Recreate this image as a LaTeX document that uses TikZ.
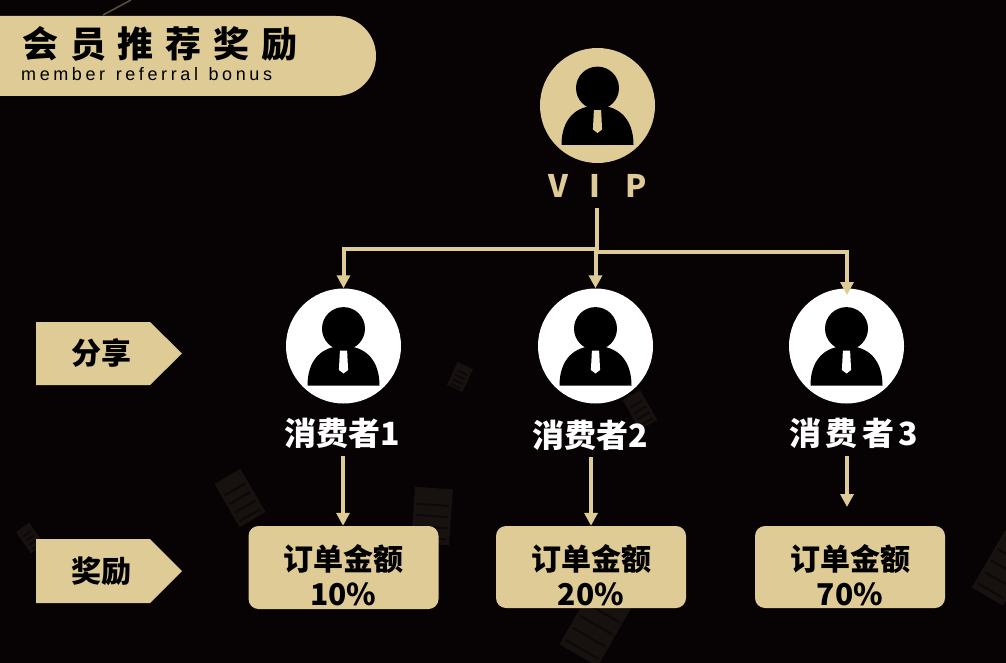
\documentclass[tikz,border=0pt]{standalone}
\usepackage{fontspec}
\setmainfont{Liberation Sans}
\newfontfamily\cjk{Noto Sans CJK SC}
\newfontfamily\cjkwide[LetterSpace=33]{Noto Sans CJK SC}
\newfontfamily\latinwide[LetterSpace=20]{Liberation Sans}
\usetikzlibrary{arrows.meta, positioning}
\definecolor{bgdark}{HTML}{070204}
\definecolor{gold}{HTML}{DFCB95}
\definecolor{scrap}{HTML}{171210}
\definecolor{scrapline}{HTML}{0D0908}
\tikzset{
  member/.style={circle,minimum size=115pt,inner sep=0pt},
  bonusbox/.style={fill=gold,rounded corners=10pt,minimum width=190pt,minimum height=82pt,inner sep=0pt},
  boxtext/.style={font=\cjk\bfseries\fontsize{30}{35}\selectfont,align=center,inner sep=0pt},
  tagtext/.style={font=\cjk\bfseries\fontsize{30}{35}\selectfont,inner sep=0pt},
  whotext/.style={font=\cjk\bfseries\fontsize{32}{36}\selectfont,text=white,inner sep=0pt},
  flow/.style={draw=gold,line width=4pt,-{Triangle[length=13pt,width=13pt]}},
  stem/.style={draw=gold,line width=4pt},
  person/.pic={
    \fill[black] (0,-17.4) circle (21.5);
    \fill[black] (-36,39.5) .. controls (-36,14) and (-22,0) .. (0,0) .. controls (22,0) and (36,14) .. (36,39.5) -- cycle;
    \fill[pic actions] (-3.6,4.6) -- (3.6,4.6) -- (4.6,24) -- (0,27.5) -- (-4.6,24) -- cycle;
  }
}
\begin{document}
\begin{tikzpicture}[x=1pt,y=-1pt]
  \useasboundingbox (0,0) rectangle (1006,663);
  \fill[bgdark] (0,0) rectangle (1006,663);

  % scraps in the background
  \foreach \px/\py/\ang/\wd/\ht in {240/498/30/30/50, 432/516/-4/38/56, 460/377/-25/17/25, 30/538/35/16/26, 640/410/30/20/34, 596/625/-30/44/70, 1004/568/-30/36/66}{
    \begin{scope}[shift={(\px,\py)},rotate=\ang]
      \fill[scrap] (-\wd/2,-\ht/2) rectangle (\wd/2,\ht/2);
      \foreach \k in {-1,...,2}
        \fill[scrapline] (-\wd/2+3,\k*\ht/5-1) rectangle (\wd/2-3,\k*\ht/5+1);
    \end{scope}
  }
  \draw[draw=black!60!gold,line width=1.5pt] (103,15) -- (131,0);

  % title
  \fill[gold,rounded corners=40pt] (-50,16) -- (376,16) -- (376,96) -- (-50,96) -- cycle;
  \node[font=\cjkwide\bfseries\fontsize{36}{40}\selectfont,anchor=west,inner sep=0pt] (title) at (22,44) {会员推荐奖励};
  \node[font=\latinwide\fontsize{18}{20}\selectfont,anchor=west,inner sep=0pt] (subtitle) at (21,74.5) {member\hspace{2pt} referral\hspace{2pt} bonus};

  % people
  \node[member,fill=gold] (vip) at (597.5,105.5) {};
  \node[member,fill=white] (cons1) at (343.5,346) {};
  \node[member,fill=white] (cons2) at (595.5,346) {};
  \node[member,fill=white] (cons3) at (846.5,346) {};
  \pic[fill=gold] at (vip) {person};
  \pic[fill=white] at (cons1) {person};
  \pic[fill=white] at (cons2) {person};
  \pic[fill=white] at (cons3) {person};

  \node[font=\cjk\bfseries\fontsize{31}{36}\selectfont,text=gold,inner sep=0pt] (viptext) at (598,186) {V\hspace{21pt}I\hspace{25pt}P};
  \node[whotext] (who1) at (342,433) {消费者1};
  \node[whotext] (who2) at (590.5,435) {消费者2};
  \node[whotext] (who3) at (854,433) {消\hspace{4.5pt}费\hspace{4.5pt}者\hspace{4.5pt}3};

  % tags on the left
  \fill[gold] (36,322) -- (150,322) -- (182,353.5) -- (150,385) -- (36,385) -- cycle;
  \node[tagtext] (share) at (101,353) {分享};
  \fill[gold] (36,539) -- (150,539) -- (182,571) -- (150,603) -- (36,603) -- cycle;
  \node[tagtext] (reward) at (101,571) {奖励};

  % bonus boxes
  \node[bonusbox,minimum height=83pt] (box1) at (343.5,567.5) {};
  \node[bonusbox] (box2) at (591,567) {};
  \node[bonusbox] (box3) at (850,567) {};
  \node[boxtext] (amt1) at (box1.center) [yshift=-8pt] {订单金额\\10\%};
  \node[boxtext] (amt2) at (box2.center) [yshift=-8pt] {订单金额\\20\%};
  \node[boxtext] (amt3) at (box3.center) [yshift=-8pt] {订单金额\\70\%};

  % connectors
  \coordinate (vipfoot) at (596.5,208);
  \coordinate (busleft) at (596.5,248.5);
  \coordinate (busright) at (596.5,252);
  \coordinate (intothree) at (847,295);
  \coordinate (from1) at (343,456);
  \coordinate (from2) at (591,457);
  \coordinate (from3) at (847,456);
  \coordinate (to3) at (847,507);
  \draw[stem] (vipfoot) -- (busright);
  \draw[flow] (busleft) -| (cons1.north);
  \draw[flow] (busleft -| cons2.north) -- (cons2.north);
  \draw[flow] (busright) -| (intothree);
  \draw[flow] (from1) -- (from1 |- box1.north);
  \draw[flow] (from2) -- (box2.north);
  \draw[flow] (from3) -- (to3);
\end{tikzpicture}
\end{document}
